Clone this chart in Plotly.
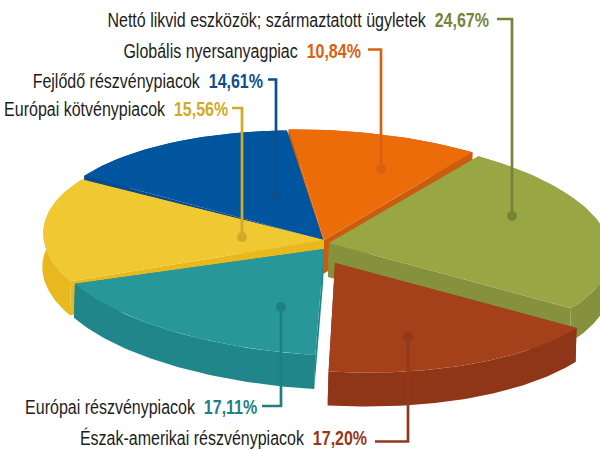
import math
import plotly.graph_objects as go

# Chart data, clockwise from the top of the pie
categories = ['Globális nyersanyagpiac', 'Nettó likvid eszközök; származtatott ügyletek',
              'Észak-amerikai részvénypiacok', 'Európai részvénypiacok',
              'Európai kötvénypiacok', 'Fejlődő részvénypiacok']
values = [10.84, 24.67, 17.20, 17.11, 15.56, 14.61]

# Colours per slice
top_colors = ['#EC6C0A', '#98A644', '#A5411A', '#279799', '#F0C832', '#00559F']
side_colors = ['#CB5C0D', '#86913E', '#903618', '#20868A', '#E8B91E', '#0B4A8C']
label_colors = ['#D9610F', '#76843A', '#93391A', '#1F8083', '#D3A92A', '#0D4F8B']

# Pie geometry in pixels: where each slice's tip sits, and the centre and width of its rim
apex = [(324, 240), (329, 243), (335, 263), (324, 249), (324, 240), (323, 240)]
rim_center = [(323, 239), (329, 243), (342, 263), (329, 246.5), (325, 244), (320, 240)]
rim_scale = [1, 1, 0.97, 1, 1, 0.97]
rx, ry = 282, 109
tilt = math.radians(2.6)
depth = 34
start_angle = -8

# Leader lines: label end, bend x, label y, dot y
leaders = [(368, 381, 49.5, 169), (497, 512, 19, 216), (375, 408, 441.5, 337),
           (262, 281, 406, 307), (232, 242, 108, 237), (268, 276, 79.5, 196)]
label_right = [363, 491, 369, 259, 230, 265]
label_shift = [1, 1, -4, 1, 1, 1]
draw_order = [0, 5, 1, 4, 3, 2]


def rim_point(angle, center, scale):
    a = math.radians(angle)
    x = rx * scale * math.sin(a)
    y = -ry * math.cos(a)
    return (center[0] + x * math.cos(tilt) - y * math.sin(tilt),
            center[1] + x * math.sin(tilt) + y * math.cos(tilt))


def polygon_trace(points, color):
    return go.Scatter(x=[p[0] for p in points], y=[p[1] for p in points],
                      mode='lines', fill='toself', fillcolor=color,
                      line=dict(width=0, color=color), hoverinfo='skip')


def low(p):
    return (p[0] - 1, p[1] + depth)


fig = go.Figure()

# Slice angles come from the values
total = sum(values)
angles = [start_angle]
for v in values:
    angles.append(angles[-1] + v / total * 360)

for i in draw_order:
    c = apex[i]
    n = max(int(angles[i + 1] - angles[i]), 2)
    arc = [rim_point(angles[i] + (angles[i + 1] - angles[i]) * k / n, rim_center[i], rim_scale[i])
           for k in range(n + 1)]
    # side faces: the rim and the two cut edges, each its own polygon
    fig.add_trace(polygon_trace(arc + [low(p) for p in reversed(arc)], side_colors[i]))
    fig.add_trace(polygon_trace([c, arc[0], low(arc[0]), low(c)], side_colors[i]))
    fig.add_trace(polygon_trace([c, arc[-1], low(arc[-1]), low(c)], side_colors[i]))
    fig.add_trace(polygon_trace([c] + arc, top_colors[i]))

# Leader lines, dots and labels
for i in range(len(values)):
    x0, x1, ly, dy = leaders[i]
    fig.add_trace(go.Scatter(x=[x0, x1, x1], y=[ly, ly, dy], mode='lines',
                             line=dict(color=label_colors[i], width=2.7), hoverinfo='skip'))
    fig.add_trace(go.Scatter(x=[x1], y=[dy], mode='markers',
                             marker=dict(color=label_colors[i], size=10), hoverinfo='skip'))
    value_text = f'{values[i]:.2f}'.replace('.', ',') + '%'
    fig.add_annotation(x=label_right[i], y=ly + label_shift[i], xref='x', yref='y',
                       xanchor='right', yanchor='middle', showarrow=False, align='right',
                       text=f'{categories[i]}  <b><span style="color:{label_colors[i]}">{value_text}</span></b>',
                       font=dict(family='Liberation Sans', size=20, color='#1d1d1b'))

fig.update_layout(width=600, height=449, margin=dict(l=0, r=0, t=0, b=0),
                  paper_bgcolor='white', plot_bgcolor='white', showlegend=False,
                  xaxis=dict(range=[0, 600], visible=False),
                  yaxis=dict(range=[449, 0], visible=False))

# No narrow font is installed, so squeeze the label text horizontally around its right end
squeeze = """
document.body.style.margin='0';
document.querySelectorAll('.annotation-text-g text').forEach(function (t) {
  var b = t.getBBox();
  var r = b.x + b.width;
  t.setAttribute('transform', 'translate(' + r + ',0) scale(0.8,1) translate(' + (-r) + ',0)');
});
"""
fig.write_html('out.html', post_script=squeeze, config=dict(displayModeBar=False))
